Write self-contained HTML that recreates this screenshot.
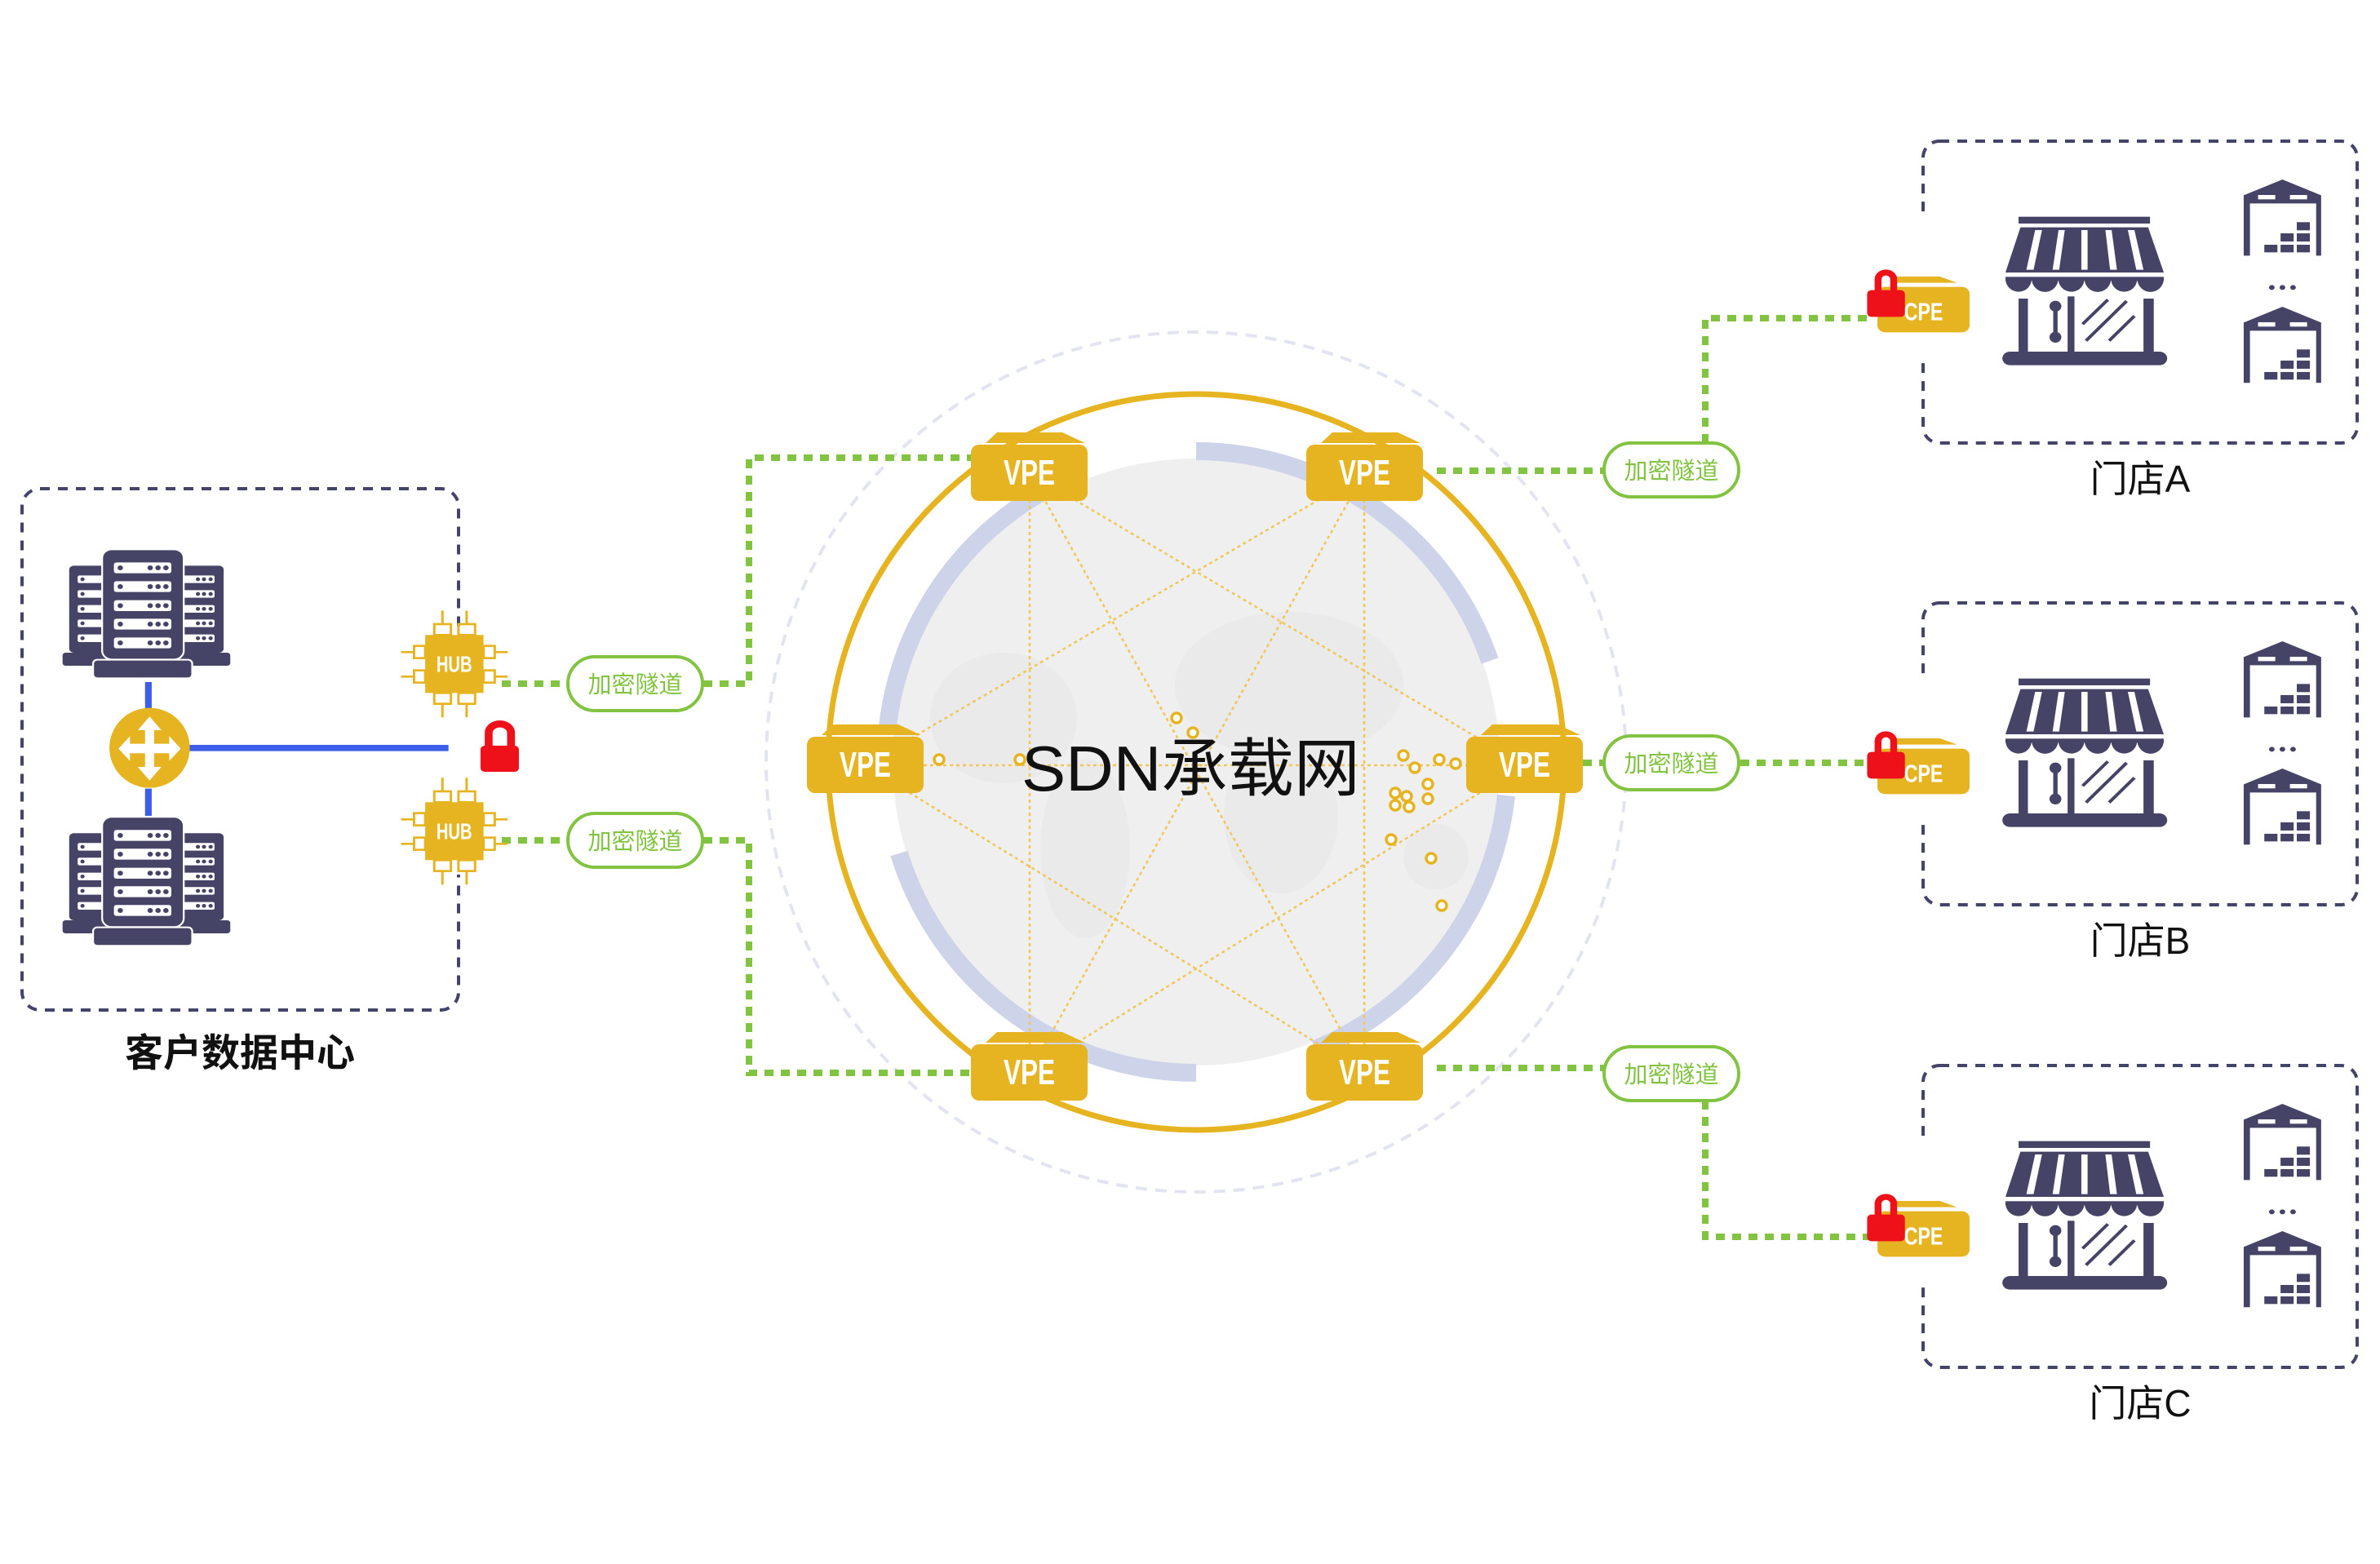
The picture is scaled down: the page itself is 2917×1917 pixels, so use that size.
<!DOCTYPE html>
<html><head><meta charset="utf-8"><style>html,body{margin:0;padding:0;background:#fff}svg{display:block}</style></head>
<body>
<svg width="2917" height="1917" viewBox="0 0 2917 1917" xmlns="http://www.w3.org/2000/svg">
<defs>
<g id="srv">
  <rect x="67" y="100" width="120" height="320" rx="15" fill="#464466"/>
  <rect x="435" y="100" width="143" height="320" rx="15" fill="#464466"/>
  <rect x="45" y="420" width="555" height="48" rx="10" fill="#464466"/>
  <rect x="95" y="136" width="95" height="28" rx="6" fill="#fff"/><rect x="95" y="190" width="95" height="28" rx="6" fill="#fff"/><rect x="95" y="245" width="95" height="28" rx="6" fill="#fff"/><rect x="95" y="298" width="95" height="28" rx="6" fill="#fff"/><rect x="95" y="353" width="95" height="28" rx="6" fill="#fff"/>
  <rect x="435" y="136" width="113" height="28" rx="6" fill="#fff"/><rect x="435" y="190" width="113" height="28" rx="6" fill="#fff"/><rect x="435" y="245" width="113" height="28" rx="6" fill="#fff"/><rect x="435" y="298" width="113" height="28" rx="6" fill="#fff"/><rect x="435" y="353" width="113" height="28" rx="6" fill="#fff"/>
  <g fill="#464466"><circle cx="111" cy="150" r="7"/><circle cx="111" cy="204" r="7"/><circle cx="111" cy="259" r="7"/><circle cx="111" cy="312" r="7"/><circle cx="111" cy="367" r="7"/>
  <circle cx="493" cy="150" r="7"/><circle cx="513" cy="150" r="7"/><circle cx="535" cy="150" r="7"/><circle cx="493" cy="204" r="7"/><circle cx="513" cy="204" r="7"/><circle cx="535" cy="204" r="7"/><circle cx="493" cy="259" r="7"/><circle cx="513" cy="259" r="7"/><circle cx="535" cy="259" r="7"/><circle cx="493" cy="312" r="7"/><circle cx="513" cy="312" r="7"/><circle cx="535" cy="312" r="7"/><circle cx="493" cy="367" r="7"/><circle cx="513" cy="367" r="7"/><circle cx="535" cy="367" r="7"/></g>
  <rect x="176" y="40" width="270" height="405" rx="32" fill="#464466" stroke="#fff" stroke-width="6"/>
  <rect x="146" y="446" width="328" height="68" rx="14" fill="#464466" stroke="#fff" stroke-width="6"/>
  <g fill="#fff"><rect x="215" y="88" width="190" height="40" rx="8"/><rect x="215" y="157" width="190" height="40" rx="8"/><rect x="215" y="227" width="190" height="40" rx="8"/><rect x="215" y="295" width="190" height="40" rx="8"/><rect x="215" y="364" width="190" height="40" rx="8"/></g>
  <g fill="#464466"><circle cx="236" cy="108" r="9"/><circle cx="236" cy="177" r="9"/><circle cx="236" cy="247" r="9"/><circle cx="236" cy="315" r="9"/><circle cx="236" cy="384" r="9"/>
  <circle cx="335" cy="108" r="9"/><circle cx="361" cy="108" r="9"/><circle cx="387" cy="108" r="9"/><circle cx="335" cy="177" r="9"/><circle cx="361" cy="177" r="9"/><circle cx="387" cy="177" r="9"/><circle cx="335" cy="247" r="9"/><circle cx="361" cy="247" r="9"/><circle cx="387" cy="247" r="9"/><circle cx="335" cy="315" r="9"/><circle cx="361" cy="315" r="9"/><circle cx="387" cy="315" r="9"/><circle cx="335" cy="384" r="9"/><circle cx="361" cy="384" r="9"/><circle cx="387" cy="384" r="9"/></g>
</g>
<g id="hub">
  <g fill="none" stroke="#e6b420" stroke-width="8">
    <rect x="1275" y="315" width="55" height="40"/><rect x="1355" y="315" width="55" height="40"/>
    <rect x="1275" y="568" width="55" height="40"/><rect x="1355" y="568" width="55" height="40"/>
    <rect x="1208" y="395" width="37" height="45"/><rect x="1208" y="485" width="37" height="45"/>
    <rect x="1438" y="395" width="37" height="45"/><rect x="1438" y="485" width="37" height="45"/>
    <path d="M1302 265V315M1382 265V315M1302 608V658M1382 608V658M1165 418H1208M1165 508H1208M1475 418H1518M1475 508H1518"/>
  </g>
  <rect x="1245" y="355" width="193" height="213" fill="#e6b420"/>
  <text x="1282" y="490" font-family="Liberation Sans, sans-serif" font-weight="bold" font-size="82" fill="#fff" textLength="118" lengthAdjust="spacingAndGlyphs">HUB</text>
</g>
<g id="wh">
  <path d="M1228 118L1352 60L1476 118V340H1460V148H1248V340H1228Z" fill="#464466"/>
  <rect x="1274" y="117" width="55" height="16" fill="#fff"/><rect x="1376" y="117" width="55" height="16" fill="#fff"/>
  <g fill="#464466"><rect x="1398" y="217" width="42" height="30"/><rect x="1346" y="258" width="42" height="30"/><rect x="1398" y="258" width="42" height="30"/><rect x="1294" y="300" width="42" height="28"/><rect x="1346" y="300" width="42" height="28"/><rect x="1398" y="300" width="42" height="28"/></g>
</g>
<g id="store">
  <rect x="507" y="197" width="421" height="25" fill="#464466"/>
  <path d="M513 236H922L972 402H465Z" fill="#464466"/>
  <g fill="#fff"><path d="M560 246H582L555 392H532Z"/><path d="M635 246H655L637 392H616Z"/><path d="M708 246H728V392H708Z"/><path d="M785 246H805L822 392H800Z"/><path d="M857 246H878L907 392H884Z"/></g>
  <rect x="465" y="418" width="507" height="14" fill="#464466"/>
  <path d="M465 425H549A42 48 0 0 1 465 425ZM549 425H634A42 48 0 0 1 549 425ZM634 425H718A42 48 0 0 1 634 425ZM718 425H803A42 48 0 0 1 718 425ZM803 425H887A42 48 0 0 1 803 425ZM887 425H972A42 48 0 0 1 887 425Z" fill="#464466"/>
  <rect x="507" y="498" width="30" height="200" fill="#464466"/><rect x="664" y="490" width="22" height="210" fill="#464466"/><rect x="907" y="498" width="33" height="200" fill="#464466"/>
  <path d="M625 528V640" stroke="#464466" stroke-width="14"/><ellipse cx="625" cy="526" rx="19" ry="20" fill="#464466"/><ellipse cx="625" cy="640" rx="19" ry="20" fill="#464466"/>
  <path d="M712 592L793 502M723 653L853 507M797 653L878 562" stroke="#464466" stroke-width="11"/>
  <rect x="455" y="693" width="528" height="50" rx="25" fill="#464466"/>
  <use href="#wh"/><use href="#wh" transform="translate(0,468)"/>
  <circle cx="1318" cy="457" r="9" fill="#464466"/><circle cx="1352" cy="457" r="9" fill="#464466"/><circle cx="1386" cy="457" r="9" fill="#464466"/>
  <path d="M95 440L115 417H255L310 440Z" fill="#e6b420"/>
  <rect x="55" y="455" width="295" height="167" rx="25" fill="#e6b420"/>
  <text x="140" y="578" font-family="Liberation Sans, sans-serif" font-weight="bold" font-size="92" fill="#fff" textLength="125" lengthAdjust="spacingAndGlyphs">CPE</text>
  <path d="M57 472V427A25 25 0 0 1 107 427V472" fill="none" stroke="#ee1119" stroke-width="22"/>
  <rect x="22" y="467" width="121" height="98" rx="14" fill="#ee1119"/>
</g>
<g id="vpe">
  <path d="M18 -2L32 -15H112L140 -2Z" fill="#e6b420"/>
  <rect x="0" y="0" width="143" height="69" rx="10" fill="#e6b420"/>
  <text x="40" y="49" font-family="Liberation Sans, sans-serif" font-weight="bold" font-size="44" fill="#fff" textLength="63" lengthAdjust="spacingAndGlyphs">VPE</text>
</g>
<g id="pill">
  <rect x="0" y="0" width="165" height="66" rx="33" fill="#fff" stroke="#82c341" stroke-width="4"/>
  <text x="82.5" y="44" text-anchor="middle" font-family="Liberation Sans, 'Noto Sans CJK SC', sans-serif" font-size="29" fill="#82c341">加密隧道</text>
</g>
</defs>

<circle cx="1466" cy="934" r="527" fill="none" stroke="#e2e5f1" stroke-width="4" stroke-dasharray="14 10"/>
<circle cx="1466" cy="934" r="372" fill="#efefef"/>
<g fill="#e6e6e6" opacity="0.5">
  <ellipse cx="1230" cy="880" rx="90" ry="80"/><ellipse cx="1330" cy="1040" rx="55" ry="110"/><ellipse cx="1580" cy="840" rx="140" ry="90"/><ellipse cx="1570" cy="1000" rx="70" ry="95"/><ellipse cx="1760" cy="1050" rx="40" ry="40"/>
</g>
<g fill="none" stroke="#cdd3e8" stroke-width="22">
  <path d="M1466 553A381 381 0 0 1 1826 810"/>
  <path d="M1846 975A381 381 0 0 1 1612 1286"/>
  <path d="M1466 1315A381 381 0 0 1 1102 1046"/>
  <path d="M1087 900A381 381 0 0 1 1300 591"/>
</g>
<circle cx="1466" cy="934" r="451" fill="none" stroke="#e6b420" stroke-width="7"/>
<g stroke="#f0c658" stroke-width="2.5" stroke-dasharray="4 4" fill="none">
  <path d="M1262 580L1868 938M1262 580L1672 1314M1672 580L1060 938M1672 580L1262 1314M1060 938L1672 1314M1868 938L1262 1314M1060 938H1868M1262 580V1314M1672 580V1314"/>
</g>
<g fill="#fff" stroke="#e6b420" stroke-width="3.5">
  <circle cx="1442" cy="880" r="6"/><circle cx="1462" cy="898" r="6"/><circle cx="1151" cy="931" r="6"/><circle cx="1250" cy="931" r="6"/><circle cx="1720" cy="926" r="6"/><circle cx="1734" cy="941" r="6"/><circle cx="1764" cy="931" r="6"/><circle cx="1784" cy="936" r="6"/><circle cx="1750" cy="961" r="6"/><circle cx="1750" cy="979" r="6"/><circle cx="1710" cy="972" r="6"/><circle cx="1724" cy="976" r="6"/><circle cx="1710" cy="987" r="6"/><circle cx="1727" cy="989" r="6"/><circle cx="1705" cy="1029" r="6"/><circle cx="1754" cy="1052" r="6"/><circle cx="1767" cy="1110" r="6"/>
</g>
<text x="1252" y="969" font-family="Liberation Sans, 'Noto Sans CJK SC', sans-serif" font-size="78" fill="#111" textLength="415" lengthAdjust="spacingAndGlyphs">SDN承载网</text>

<g fill="none" stroke="#82c341" stroke-width="8" stroke-dasharray="11 9">
  <path d="M615 838H694"/><path d="M862 838H918V561H1190"/>
  <path d="M615 1030H694"/><path d="M862 1030H918V1315H1190"/>
  <path d="M1761 577H1966"/><path d="M2090 543V390H2290"/>
  <path d="M1940 935H1966"/><path d="M2133 935H2290"/>
  <path d="M1761 1309H1966"/><path d="M2090 1349V1516H2290"/>
</g>
<use href="#pill" x="696" y="805"/>
<use href="#pill" x="696" y="997"/>
<use href="#pill" x="1966" y="543"/>
<use href="#pill" x="1966" y="902"/>
<use href="#pill" x="1966" y="1283"/>

<use href="#vpe" x="1190" y="545"/>
<use href="#vpe" x="1601" y="545"/>
<use href="#vpe" x="989" y="903"/>
<use href="#vpe" x="1797" y="903"/>
<use href="#vpe" x="1190" y="1280"/>
<use href="#vpe" x="1601" y="1280"/>

<rect x="27" y="599" width="535" height="639" rx="22" fill="none" stroke="#44446a" stroke-width="4" stroke-dasharray="12 10"/>
<rect x="550" y="772" width="25" height="300" fill="#fff"/>
<g transform="translate(60,660) scale(0.3704,0.3333)">
  <use href="#srv"/>
  <use href="#srv" transform="translate(0,984)"/>
  <use href="#hub"/>
  <use href="#hub" transform="translate(0,615)"/>
  <rect x="318" y="528" width="22" height="100" fill="#3c5ee8"/>
  <rect x="318" y="920" width="22" height="100" fill="#3c5ee8"/>
  <rect x="440" y="759" width="882" height="23" fill="#3c5ee8"/>
  <ellipse cx="333" cy="770" rx="133" ry="147" fill="#e6b420"/>
  <path d="M333 655L372 705H348V755H398V727L436 773L398 818V790H348V840H372L333 890L294 840H318V790H268V818L230 773L268 727V755H318V705H294Z" fill="#fff"/>
  <path d="M1455 770V715A37 33 0 0 1 1529 715V770" fill="none" stroke="#ee1119" stroke-width="26"/>
  <rect x="1428" y="762" width="127" height="96" rx="14" fill="#ee1119"/>
</g>
<text x="294" y="1307" text-anchor="middle" font-family="Liberation Sans, 'Noto Sans CJK SC', sans-serif" font-size="47" font-weight="bold" fill="#111">客户数据中心</text>

<g>
  <rect x="2357" y="173" width="532" height="370" rx="20" fill="none" stroke="#44446a" stroke-width="4" stroke-dasharray="12 10"/>
  <rect x="2345" y="268" width="30" height="172" fill="#fff"/>
  <g transform="translate(2280,200) scale(0.3827,0.3333)"><use href="#store"/></g>
  <text x="2623" y="603" text-anchor="middle" font-family="Liberation Sans, 'Noto Sans CJK SC', sans-serif" font-size="46" fill="#111">门店A</text>
</g>
<g transform="translate(0,566)">
  <rect x="2357" y="173" width="532" height="370" rx="20" fill="none" stroke="#44446a" stroke-width="4" stroke-dasharray="12 10"/>
  <rect x="2345" y="268" width="30" height="172" fill="#fff"/>
  <g transform="translate(2280,200) scale(0.3827,0.3333)"><use href="#store"/></g>
  <text x="2623" y="603" text-anchor="middle" font-family="Liberation Sans, 'Noto Sans CJK SC', sans-serif" font-size="46" fill="#111">门店B</text>
</g>
<g transform="translate(0,1133)">
  <rect x="2357" y="173" width="532" height="370" rx="20" fill="none" stroke="#44446a" stroke-width="4" stroke-dasharray="12 10"/>
  <rect x="2345" y="268" width="30" height="172" fill="#fff"/>
  <g transform="translate(2280,200) scale(0.3827,0.3333)"><use href="#store"/></g>
  <text x="2623" y="603" text-anchor="middle" font-family="Liberation Sans, 'Noto Sans CJK SC', sans-serif" font-size="46" fill="#111">门店C</text>
</g>
</svg>
</body></html>
